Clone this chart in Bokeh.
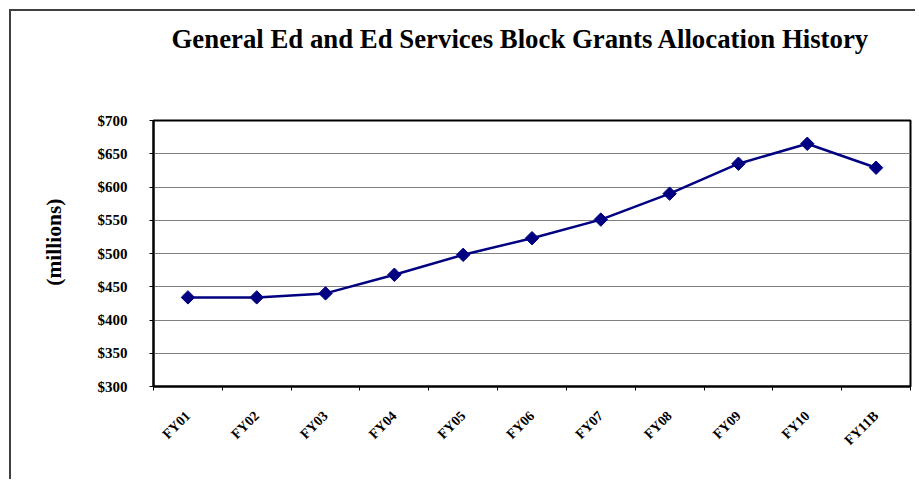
import math
from bokeh.plotting import figure
from bokeh.models import (FixedTicker, PrintfTickFormatter, Range1d, Title,
                          ColumnDataSource)
from bokeh.embed import file_html
from bokeh.resources import INLINE

categories = ["FY01", "FY02", "FY03", "FY04", "FY05", "FY06",
              "FY07", "FY08", "FY09", "FY10", "FY11B"]
values = [434, 434, 440, 468, 498, 523, 551, 590, 635, 665, 629]
y_ticks = [300, 350, 400, 450, 500, 550, 600, 650, 700]

title_text = "General Ed and Ed Services Block Grants Allocation History"
y_label = "(millions)"

xs = [i + 0.5 for i in range(len(categories))]
src = ColumnDataSource(dict(x=xs, y=values, cat=categories))

FONT = "Liberation Serif"
W, H = 906, 470

p = figure(width=W, height=H, output_backend="svg", toolbar_location=None,
           x_range=Range1d(0, len(categories)), y_range=Range1d(300, 700),
           min_border_left=142, min_border_top=109, min_border_right=7,
           min_border_bottom=95, title=None)

p.styles = {"border-left": "2px solid #404040", "border-top": "2px solid #404040",
            "margin-left": "9px", "margin-top": "9px"}

# spacer between frame and title (nearest the frame)
spacer = Title(text=" ", standoff=62, text_font_size="1px", text_color="white")
p.add_layout(spacer, "above")
t = Title(text=title_text, align="left", offset=18, standoff=0,
          vertical_align="top",
          text_font=FONT, text_font_size="26.8px", text_font_style="bold",
          text_color="black")
p.add_layout(t, "above")

p.background_fill_color = "white"
p.border_fill_color = "white"
p.outline_line_color = "black"
p.outline_line_width = 2

# grid
p.xgrid.grid_line_color = None
p.ygrid.grid_line_color = "#808080"
p.ygrid.grid_line_width = 1
p.ygrid.ticker = FixedTicker(ticks=y_ticks)

# y axis
ya = p.yaxis[0]
ya.ticker = FixedTicker(ticks=y_ticks)
ya.formatter = PrintfTickFormatter(format="$%d")
ya.axis_line_color = "black"
ya.axis_line_width = 2
ya.major_tick_in = 0
ya.major_tick_out = 4
ya.major_tick_line_color = "black"
ya.minor_tick_line_color = None
ya.major_label_text_font = FONT
ya.major_label_text_font_style = "bold"
ya.major_label_text_font_size = "15px"
ya.major_label_text_color = "black"
ya.major_label_standoff = 22

ylab = Title(text=y_label, align="right", offset=78, standoff=56,
             vertical_align="middle",
             text_font=FONT, text_font_size="21.5px", text_font_style="bold",
             text_color="black")
p.add_layout(ylab, "left")

# x axis
xa = p.xaxis[0]
xa.ticker = FixedTicker(ticks=xs, minor_ticks=list(range(len(categories) + 1)))
xa.major_label_overrides = {x: c for x, c in zip(xs, categories)}
xa.major_label_orientation = math.pi / 4
xa.axis_line_color = "black"
xa.axis_line_width = 2
xa.major_tick_line_color = None
xa.minor_tick_line_color = "black"
xa.minor_tick_in = 0
xa.minor_tick_out = 4
xa.major_label_text_font = FONT
xa.major_label_text_font_style = "bold"
xa.major_label_text_font_size = "14px"
xa.major_label_text_color = "black"
xa.major_label_standoff = 21

p.line("x", "y", source=src, line_color="#000080", line_width=2.5)
p.scatter("x", "y", source=src, marker="square", angle=math.pi / 4, size=9.5,
          fill_color="#000080", line_color="#000080")

open("out.html", "w").write(file_html(p, INLINE))
